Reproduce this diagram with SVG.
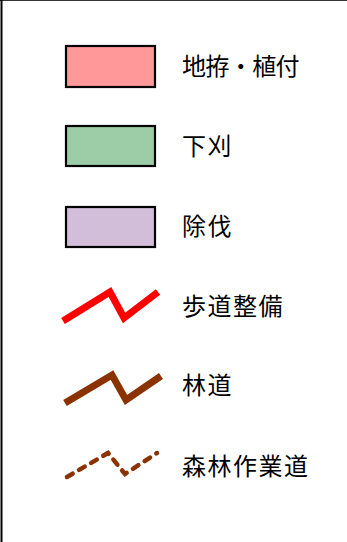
<svg xmlns="http://www.w3.org/2000/svg" width="347" height="542" viewBox="0 0 347 542">
<style>
.sw{stroke:#000;stroke-width:2.2}
.lbl{font-family:"Noto Sans CJK JP","Noto Sans CJK SC",sans-serif;font-size:24px;fill:#000;letter-spacing:1.5px}
.ln{fill:none;stroke-linejoin:miter;stroke-miterlimit:10}
</style>
<rect x="0" y="0" width="347" height="542" fill="#fff"/>
<g id="frame">
<line x1="0" y1="0.5" x2="347" y2="0.5" stroke="#333" stroke-width="1.2"/>
<line x1="1.5" y1="0" x2="1.5" y2="542" stroke="#000" stroke-width="2"/>
</g>
<g id="item-jigoshirae">
<rect class="sw" x="66" y="46" width="89" height="41" fill="#ff9999"/>
<text class="lbl" x="182" y="75" style="letter-spacing:-0.6px">地拵・植付</text>
</g>
<g id="item-shitagari">
<rect class="sw" x="66" y="126" width="89" height="40" fill="#9ccda6"/>
<text class="lbl" x="182" y="154.5">下刈</text>
</g>
<g id="item-jobatsu">
<rect class="sw" x="66" y="207" width="89" height="40" fill="#d2bed8"/>
<text class="lbl" x="182" y="234.5">除伐</text>
</g>
<g id="connectors">
<polyline id="line-hodo" class="ln" points="63,321 110,292 124,318 158,292" stroke="#ff0000" stroke-width="7"/>
<polyline id="line-rindo" class="ln" points="65,403 112,375 126,400 161,376" stroke="#8b3300" stroke-width="7"/>
<polyline id="line-sagyodo" points="67,477 108,453 125,474 157,453" fill="none" stroke="#8b3300" stroke-width="4.5" stroke-linecap="round" stroke-dasharray="6.5 7.5"/>
</g>
<g id="item-hodo"><text class="lbl" x="182" y="315">歩道整備</text></g>
<g id="item-rindo"><text class="lbl" x="182" y="393.5">林道</text></g>
<g id="item-sagyodo"><text class="lbl" x="182" y="475">森林作業道</text></g>
</svg>
